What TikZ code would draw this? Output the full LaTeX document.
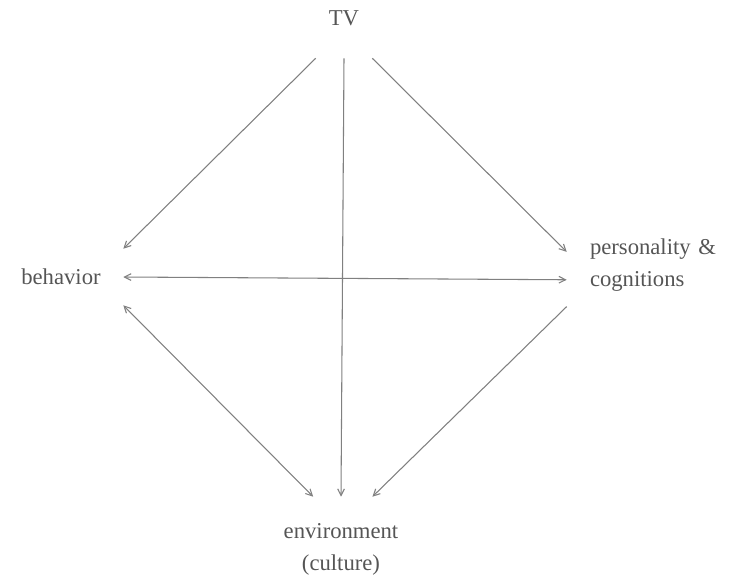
\documentclass[tikz,border=0pt]{standalone}
\usepackage{fontspec}
\setmainfont{Liberation Serif}
\usetikzlibrary{arrows.meta}
\definecolor{inkgray}{HTML}{555555}
\definecolor{linegray}{HTML}{808080}

\begin{document}
\begin{tikzpicture}[x=0.75pt,y=-0.75pt,
		lbl/.style={text=inkgray, font=\fontsize{17}{24}\selectfont, inner sep=0pt},
		arr/.style={draw=linegray, line width=0.8pt, -{Straight Barb[length=5pt,width=5pt]}},
		both/.style={arr, {Straight Barb[length=5pt,width=5pt]}-{Straight Barb[length=5pt,width=5pt]}}]
		\useasboundingbox (0,0) rectangle (744,575);
		\node[lbl, minimum width=42pt, minimum height=60pt] (tv) at (344,18) {TV};
		\node[lbl, minimum width=93pt, minimum height=42pt] (behavior) at (61,277) {behavior};
		\node[lbl, text width=105pt, align=left, inner xsep=17.25pt, minimum height=90pt] (personality) at (660,265) {personality \&\\cognitions};
		\node[lbl, text width=97.5pt, align=center, minimum height=78pt] (environment) at (341,549) {environment\\(culture)};
		\path
		(tv.south west) edge[arr] (behavior.north east)
		(tv.south) edge[arr] (environment.north)
		(tv.south east) edge[arr] (personality.172)
		(behavior.east) edge[both] (personality.189)
		(behavior.south east) edge[both] (environment.118)
		(personality.204) edge[arr] (environment.59);
\end{tikzpicture}
\end{document}
